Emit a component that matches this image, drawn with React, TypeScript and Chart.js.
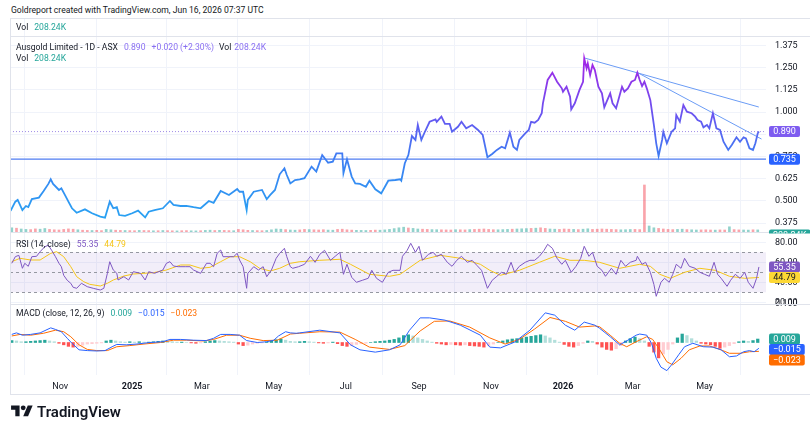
import React, { useEffect, useRef } from "react";
import { Chart, registerables } from "chart.js";

Chart.register(...registerables);

const FONT = "Roboto, 'Noto Sans', 'DejaVu Sans', sans-serif";
const TEXT = "#131722";
const GRID = "#f0f3fa";
const LEGEND_SIZE = 8.6;
Chart.defaults.font.family = FONT;
Chart.defaults.font.size = 9;
Chart.defaults.color = TEXT;

// ---------- time axis (calendar days counted from 2024-09-01) ----------
const X_MIN = 18.5;
const X_MAX = 659;
const MONTH_DAYS = [61, 122, 181, 242, 303, 365, 426, 487, 546, 607];
const MONTH_LABELS = ["Nov", "2025", "Mar", "May", "Jul", "Sep", "Nov", "2026", "Mar", "May"];
const YEAR_LABELS = ["2025", "2026"];

// ---------- price ----------
const PRICE_TICKS = [0.375, 0.5, 0.625, 0.75, 0.875, 1.0, 1.125, 1.25, 1.375];
const PRICE_DAYS = [
  19, 23, 25, 29, 32, 34, 37, 43, 47, 51,
  53, 55, 60, 62, 65, 68, 71, 75, 82, 88,
  95, 99, 103, 106, 109, 111, 116, 122, 127, 133,
  136, 141, 148, 154, 157, 163, 168, 174, 180, 187,
  191, 197, 204, 211, 213, 216, 219, 220, 225, 232,
  236, 239, 243, 247, 251, 253, 256, 260, 264, 268,
  274, 278, 283, 288, 292, 295, 300, 301, 304, 308,
  311, 315, 320, 323, 328, 333, 339, 345, 349, 350,
  353, 356, 359, 362, 364, 367, 370, 374, 379, 380,
  384, 387, 391, 393, 398, 401, 405, 410, 415, 419,
  423, 427, 431, 435, 438, 442, 445, 448, 450, 455,
  458, 460, 463, 466, 469, 470, 474, 478, 482, 486,
  487, 490, 493, 494, 497, 501, 504, 505, 507, 508,
  510, 512, 514, 517, 520, 522, 524, 527, 529, 532,
  537, 539, 542, 545, 548, 550, 552, 554, 556, 558,
  561, 564, 566, 568, 571, 572, 575, 579, 582, 583,
  586, 589, 592, 596, 599, 601, 604, 606, 609, 611,
  614, 617, 620, 623, 627, 630, 634, 637, 640, 642,
  645, 648, 650, 652, 653,
];
const PRICE_CLOSE = [
  0.445, 0.496, 0.506, 0.449, 0.472, 0.466, 0.511, 0.519, 0.556, 0.596,
  0.622, 0.596, 0.562, 0.571, 0.534, 0.496, 0.459, 0.434, 0.453, 0.431,
  0.412, 0.406, 0.496, 0.459, 0.465, 0.421, 0.416, 0.431, 0.446, 0.408,
  0.44, 0.449, 0.459, 0.5, 0.478, 0.472, 0.472, 0.465, 0.459, 0.5,
  0.49, 0.556, 0.534, 0.567, 0.552, 0.552, 0.449, 0.506, 0.552, 0.562,
  0.51, 0.534, 0.562, 0.65, 0.684, 0.646, 0.599, 0.618, 0.622, 0.628,
  0.693, 0.665, 0.758, 0.715, 0.721, 0.768, 0.768, 0.656, 0.734, 0.637,
  0.599, 0.596, 0.58, 0.614, 0.566, 0.543, 0.614, 0.618, 0.622, 0.614,
  0.712, 0.758, 0.865, 0.843, 0.927, 0.843, 0.889, 0.945, 0.959, 0.945,
  0.974, 0.933, 0.933, 0.889, 0.917, 0.945, 0.908, 0.927, 0.899, 0.871,
  0.746, 0.764, 0.787, 0.805, 0.796, 0.884, 0.805, 0.787, 0.843, 0.88,
  0.899, 0.945, 0.94, 0.955, 0.993, 1.049, 1.18, 1.221, 1.17, 1.133,
  1.114, 1.142, 1.086, 1.015, 1.049, 1.124, 1.17, 1.301, 1.245, 1.273,
  1.208, 1.264, 1.236, 1.142, 1.105, 1.026, 1.058, 1.105, 1.049, 1.021,
  1.142, 1.114, 1.133, 1.17, 1.18, 1.221, 1.18, 1.146, 1.17, 1.133,
  1.067, 0.927, 0.824, 0.753, 0.843, 0.889, 0.824, 0.889, 0.908, 0.983,
  0.946, 1.039, 1.002, 0.993, 0.974, 0.955, 0.946, 0.914, 0.927, 0.908,
  0.993, 0.908, 0.899, 0.833, 0.787, 0.815, 0.858, 0.833, 0.858, 0.852,
  0.796, 0.787, 0.824, 0.88, 0.89,
];
const LAST_CLOSE = 0.89;
const SUPPORT_LEVEL = 0.735;
const TREND_UPPER_DAYS = [505.5, 652.9];
const TREND_UPPER_PRICES = [1.303, 1.028];
const TREND_LOWER_DAYS = [550.2, 655.2];
const TREND_LOWER_PRICES = [1.221, 0.848];

// ---------- volume & MACD histogram (one bar every 4 days from day 20) ----------
const BAR_START_DAY = 20;
const BAR_STEP_DAYS = 4;
const VOLUME_K = [
  420, 380, 300, 260, 240, 310, 280, 350, 260, 220,
  200, 260, 310, 280, 220, 180, 160, 150, 170, 140,
  260, 220, 180, 160, 150, 140, 130, 160, 150, 140, 120, 130,
  150, 140, 120, 110, 130, 140, 120, 110, 130, 160, 180, 150,
  170, 160, 140, 130, 260, 220, 170, 150, 140, 130, 150, 220,
  300, 280, 240, 200, 180, 210, 260, 240, 220, 200, 230, 190,
  180, 260, 280, 220, 190, 170, 160, 150, 170, 190, 180, 210,
  260, 340, 420, 480, 400, 360, 300, 280, 260, 240, 230, 220,
  210, 200, 230, 220, 210, 240, 260, 280, 300, 260, 230, 220,
  240, 260, 280, 300, 320, 340, 360, 380, 420, 360, 300, 280,
  260, 300, 280, 260, 240, 280, 320, 260, 280, 300, 280, 260,
  240, 220, 230, 250, 260, 240, 4700, 600, 420, 360, 300, 260,
  240, 260, 280, 240, 220, 200, 210, 220, 200, 190, 210, 200,
  520, 240, 210, 200, 190, 220, 208,
];
const VOLUME_DIRECTION =
  "uduudduudd" + "dddduddudd" + "uuddudduddud" + "uddudduuduud" + "uddudddudduu" +
  "uuduuddudddu" + "udddduuudduu" + "uuuuduudduud" + "dduddudddddu" + "uuduuududduu" +
  "ddduduuddddd" + "duuuddduuddd" + "duuduudddudd" + "udduudu";
const MACD_HIST = [
  0.005, 0.004, 0.002, 0.002, 0.003, 0.004, 0.005, 0.006, 0.004, 0.002,
  -0.002, -0.006, -0.01, -0.012, -0.01, -0.007, -0.004, -0.003, -0.002, -0.001,
  0.004, 0.006, 0.004, 0.002, 0.001, 0.002, 0.001, 0.002, 0.001, 0.001, 0.002, 0.003,
  0.004, 0.003, 0.002, 0.001, 0.001, 0.0, -0.001, -0.002, -0.001, 0.002, 0.004, 0.005,
  0.004, 0.003, 0.002, 0.001, -0.004, -0.008, -0.007, -0.004, -0.002, -0.001, 0.001, 0.004,
  0.007, 0.009, 0.006, 0.003, 0.002, 0.002, 0.003, 0.002, 0.001, -0.001, -0.002, -0.001,
  0.001, -0.003, -0.008, -0.01, -0.008, -0.005, -0.003, -0.002, 0.0, 0.002, 0.003, 0.004,
  0.006, 0.008, 0.012, 0.018, 0.02, 0.017, 0.012, 0.008, 0.004, 0.001, -0.002, -0.004,
  -0.006, -0.005, -0.006, -0.007, -0.006, -0.008, -0.009, -0.01, -0.012, -0.008, -0.004, 0.0,
  0.004, 0.007, 0.009, 0.01, 0.012, 0.014, 0.016, 0.018, 0.02, 0.017, 0.012, 0.006,
  0.001, -0.005, -0.01, -0.012, -0.008, -0.002, 0.004, 0.003, -0.004, -0.012, -0.018, -0.02,
  -0.016, -0.008, 0.004, 0.01, 0.014, 0.01, 0.004, -0.01, -0.025, -0.04, -0.03, -0.018,
  -0.004, 0.012, 0.022, 0.018, 0.01, 0.004, -0.002, -0.004, -0.006, -0.01, -0.015, -0.012,
  -0.008, -0.003, 0.002, 0.004, 0.003, 0.005, 0.009,
];

// ---------- RSI (14, close) ----------
const RSI_TICKS = [20, 40, 60, 80];
const RSI_UPPER = 70;
const RSI_MIDDLE = 50;
const RSI_LOWER = 30;
const RSI_DAYS = [
  20, 23, 26, 29, 31, 34, 37, 41, 44, 48,
  51, 54, 57, 60, 62, 64, 67, 70, 72, 75,
  79, 84, 89, 95, 98, 101, 103, 106, 109, 110,
  115, 119, 123, 129, 133, 136, 141, 148, 151, 154,
  157, 161, 167, 171, 174, 180, 185, 188, 191, 194,
  197, 199, 204, 208, 211, 213, 216, 219, 220, 225,
  229, 233, 236, 240, 244, 247, 251, 253, 256, 258,
  263, 268, 273, 277, 281, 285, 290, 294, 298, 301,
  304, 308, 312, 317, 322, 325, 329, 334, 339, 343,
  349, 351, 355, 358, 362, 365, 368, 373, 377, 380,
  384, 389, 393, 397, 401, 406, 410, 414, 418, 423,
  427, 431, 435, 439, 443, 446, 450, 455, 459, 463,
  467, 471, 474, 478, 482, 486, 489, 494, 498, 502,
  505, 509, 512, 516, 520, 523, 528, 532, 536, 540,
  544, 549, 550, 554, 557, 561, 564, 566, 570, 573,
  577, 580, 583, 587, 590, 594, 599, 603, 607, 611,
  615, 618, 621, 626, 629, 633, 637, 641, 644, 648,
  651, 653,
];
const RSI_VALUES = [
  59, 65.6, 67, 54, 59, 56, 65.6, 66, 70.6, 75.6,
  77, 71.6, 65.6, 59, 55.6, 47, 42, 39, 35, 34,
  39, 35.6, 34, 32.3, 34, 49, 60.6, 52.3, 49, 42.3,
  45.6, 42.3, 50.6, 49, 42.3, 50.6, 49, 52.3, 59, 60.6,
  56.3, 55.6, 55.6, 55.6, 52.3, 49, 59, 59, 55.6, 69,
  72.3, 65.6, 65.6, 65.6, 69, 62.3, 55.6, 34, 49, 55.6,
  52.3, 55.6, 45.6, 52.3, 64, 69, 74, 65.6, 55.6, 54,
  55.6, 58, 66, 60, 68, 72, 62, 66, 70, 48,
  58, 45, 40, 42, 44, 52, 44, 40, 50, 52,
  52, 66, 72, 79, 70, 76, 62, 68, 70, 66,
  68, 60, 56, 62, 66, 60, 62, 57, 52, 34,
  42, 46, 50, 48, 60, 50, 56, 60, 62, 62,
  66, 72, 78, 74, 64, 58, 62, 50, 56, 64,
  76, 66, 70, 56, 52, 46, 54, 48, 62, 56,
  60, 62, 66, 58, 60, 50, 38, 26, 40, 44,
  40, 48, 58, 54, 64, 56, 54, 50, 48, 46,
  60, 48, 44, 36, 42, 48, 44, 50, 40, 34,
  44, 55.35,
];
const RSI_MA_DAYS = [
  20, 27, 36, 44, 53, 58, 64, 70, 75, 81,
  86, 95, 101, 106, 115, 123, 132, 140, 151, 163,
  171, 180, 188, 197, 205, 213, 222, 230, 239, 247,
  256, 264, 281, 298, 307, 323, 340, 349, 366, 383,
  400, 417, 425, 434, 450, 467, 480, 493, 505, 518,
  535, 552, 561, 569, 578, 590, 603, 616, 628, 641,
  653,
];
const RSI_MA_VALUES = [
  60.6, 64, 62.3, 62.3, 69, 70.6, 65.6, 55.6, 45.6, 40.6,
  38, 36.3, 39, 42.3, 46.3, 48.3, 49, 49.6, 52.3, 57.3,
  57.3, 54, 55, 60.6, 65.6, 65.6, 60.6, 54, 51.3, 54,
  59, 60.6, 62, 63, 58, 48, 46, 48, 62, 67,
  64, 58, 52, 47, 52, 60, 66, 62, 62, 60,
  54, 58, 56, 48, 44, 50, 54, 52, 46, 44,
  44.79,
];

// ---------- MACD (close, 12, 26, 9) ----------
const MACD_TICKS = [0.1];
const MACD_DAYS = [
  20, 24, 29, 36, 44, 53, 57, 62, 67, 71,
  77, 84, 92, 99, 105, 109, 117, 126, 137, 148,
  154, 163, 174, 185, 191, 197, 205, 213, 219, 228,
  236, 242, 246, 252, 256, 261, 264, 281, 298, 307,
  315, 328, 340, 349, 357, 366, 374, 387, 400, 417,
  425, 434, 446, 459, 472, 480, 489, 497, 505, 514,
  518, 527, 535, 542, 549, 552, 558, 562, 566, 570,
  575, 579, 585, 590, 597, 606, 614, 621, 628, 634,
  640, 645, 649, 653,
];
const MACD_VALUES = [
  0.021, 0.025, 0.019, 0.021, 0.025, 0.038, 0.034, 0.028, 0.011, -0.002,
  -0.019, -0.021, -0.022, -0.021, -0.011, -0.005, -0.006, -0.004, 0.0, 0.002,
  0.008, 0.008, 0.006, 0.005, 0.011, 0.021, 0.021, 0.019, 0.005, 0.0,
  0.002, 0.006, 0.017, 0.028, 0.025, 0.024, 0.025, 0.032, 0.025, -0.006,
  -0.019, -0.025, -0.019, -0.006, 0.032, 0.064, 0.064, 0.058, 0.045, 0.019,
  -0.012, -0.014, 0.001, 0.032, 0.077, 0.071, 0.045, 0.032, 0.053, 0.045,
  0.037, 0.015, -0.006, 0.006, 0.019, 0.022, 0.019, -0.002, -0.041, -0.064,
  -0.073, -0.058, -0.032, -0.011, -0.002, -0.011, -0.012, -0.019, -0.037, -0.035,
  -0.024, -0.021, -0.024, -0.015,
];
const SIGNAL_DAYS = [
  20, 27, 36, 47, 57, 64, 70, 77, 84, 92,
  101, 109, 120, 132, 146, 157, 168, 182, 191, 202,
  213, 222, 233, 245, 256, 264, 281, 298, 311, 323,
  340, 353, 366, 378, 391, 408, 425, 438, 450, 463,
  476, 489, 501, 514, 518, 527, 535, 541, 549, 558,
  563, 569, 575, 580, 587, 594, 603, 611, 620, 628,
  637, 645, 653,
];
const SIGNAL_VALUES = [
  0.017, 0.021, 0.019, 0.024, 0.032, 0.028, 0.015, -0.006, -0.018, -0.021,
  -0.021, -0.011, -0.008, -0.004, 0.0, 0.006, 0.006, 0.004, 0.008, 0.019,
  0.019, 0.011, 0.005, 0.006, 0.022, 0.024, 0.028, 0.027, 0.008, -0.012,
  -0.018, -0.008, 0.03, 0.055, 0.056, 0.04, 0.012, -0.004, 0.008, 0.035,
  0.065, 0.055, 0.04, 0.043, 0.041, 0.019, -0.002, -0.011, 0.002, 0.015,
  0.008, -0.019, -0.05, -0.058, -0.041, -0.019, -0.009, -0.009, -0.018, -0.028,
  -0.028, -0.024, -0.023,
];

// ---------- layout (pixels) ----------
const AXIS_W = 44;
const TIME_AXIS_H = 19;
const PANE_WEIGHTS = { top: 18, main: 196, rsi: 72, macd: 71 };
const MAIN_RANGE = [0.3258, 1.427];
const RSI_RANGE = [18.3, 90.3];
const MACD_RANGE = [-0.0844, 0.1];
const VOL_PX_PER_K = 0.01;

const COLORS = {
  purple: "#7e5cf0",
  purpleText: "#8a70f2",
  teal: "#26a69a",
  blue: "#2962ff",
  orange: "#ff6d00",
  rsi: "#7e57c2",
  rsiMa: "#f5c518",
  trend: "#6b9cf5",
  support: "#4f7df2",
};

const xy = (xs: number[], ys: number[]) => xs.map((x, i) => ({ x, y: ys[i] }));

function roundRect(ctx: CanvasRenderingContext2D, x: number, y: number, w: number, h: number, r: number) {
  ctx.beginPath();
  ctx.moveTo(x + r, y);
  ctx.lineTo(x + w - r, y);
  ctx.quadraticCurveTo(x + w, y, x + w, y + r);
  ctx.lineTo(x + w, y + h - r);
  ctx.quadraticCurveTo(x + w, y + h, x + w - r, y + h);
  ctx.lineTo(x + r, y + h);
  ctx.quadraticCurveTo(x, y + h, x, y + h - r);
  ctx.lineTo(x, y + r);
  ctx.quadraticCurveTo(x, y, x + r, y);
  ctx.closePath();
}

function valueBox(ctx: CanvasRenderingContext2D, x: number, y: number, text: string, bg: string, fg: string) {
  ctx.font = `9px ${FONT}`;
  const w = Math.max(31, ctx.measureText(text).width + 8);
  const h = 11;
  ctx.fillStyle = bg;
  roundRect(ctx, x, y - h / 2, w, h, 2);
  ctx.fill();
  ctx.fillStyle = fg;
  ctx.textAlign = "center";
  ctx.textBaseline = "middle";
  ctx.fillText(text, x + w / 2, y + 0.5);
}

function textRuns(ctx: CanvasRenderingContext2D, x: number, y: number, runs: [string, string, number][]) {
  ctx.font = `${LEGEND_SIZE}px ${FONT}`;
  ctx.textAlign = "left";
  ctx.textBaseline = "middle";
  let cx = x;
  for (const [t, c, gap] of runs) {
    cx += gap;
    ctx.fillStyle = c;
    ctx.fillText(t, cx, y);
    cx += ctx.measureText(t).width;
  }
}

const panesPlugin = {
  id: "panes",
  beforeDatasetsDraw(chart: any) {
    const { ctx, chartArea: a, scales } = chart;
    const r = scales.yRsi;
    const yU = r.getPixelForValue(RSI_UPPER);
    const yL = r.getPixelForValue(RSI_LOWER);
    ctx.save();
    ctx.fillStyle = "rgba(126,87,194,0.1)";
    ctx.fillRect(a.left, yU, a.right - a.left, yL - yU);
    ctx.strokeStyle = "#9598a1";
    ctx.lineWidth = 1;
    ctx.setLineDash([3, 3]);
    for (const v of [RSI_UPPER, RSI_MIDDLE, RSI_LOWER]) {
      const yy = Math.round(r.getPixelForValue(v)) + 0.5;
      ctx.beginPath();
      ctx.moveTo(a.left, yy);
      ctx.lineTo(a.right, yy);
      ctx.stroke();
    }
    ctx.restore();
  },
  afterDraw(chart: any) {
    const { ctx, chartArea: a, scales } = chart;
    const W = chart.width;
    const yMain = scales.y;
    const yRsi = scales.yRsi;
    const yMacd = scales.yMacd;
    const yVol = scales.yVol;
    const frameBottom = a.bottom + TIME_AXIS_H;
    ctx.save();
    ctx.strokeStyle = "#e0e3eb";
    ctx.lineWidth = 1;
    ctx.setLineDash([]);
    for (const yy of [yMain.top, yRsi.top, yMacd.top]) {
      const p = Math.round(yy) + 0.5;
      ctx.beginPath();
      ctx.moveTo(a.left, p);
      ctx.lineTo(W, p);
      ctx.stroke();
    }
    ctx.beginPath();
    ctx.moveTo(a.left + 0.5, a.top);
    ctx.lineTo(a.left + 0.5, frameBottom);
    ctx.moveTo(a.left, a.top + 0.5);
    ctx.lineTo(W, a.top + 0.5);
    ctx.moveTo(a.left, frameBottom + 0.5);
    ctx.lineTo(W, frameBottom + 0.5);
    ctx.stroke();

    const bx = a.right + 3;
    // volume last value (mostly hidden under the RSI pane)
    ctx.save();
    ctx.beginPath();
    ctx.rect(a.right, yMain.bottom - 4, W - a.right, 5.5);
    ctx.clip();
    valueBox(ctx, bx, yVol.getPixelForValue(VOLUME_K[VOLUME_K.length - 1]) + 5, "208.24K", COLORS.teal, "#fff");
    ctx.restore();

    valueBox(ctx, bx, yMain.getPixelForValue(LAST_CLOSE), LAST_CLOSE.toFixed(3), COLORS.purple, "#fff");
    valueBox(ctx, bx, yMain.getPixelForValue(SUPPORT_LEVEL), SUPPORT_LEVEL.toFixed(3), COLORS.blue, "#fff");
    const rsiLast = RSI_VALUES[RSI_VALUES.length - 1];
    const maLast = RSI_MA_VALUES[RSI_MA_VALUES.length - 1];
    valueBox(ctx, bx, yRsi.getPixelForValue(rsiLast), rsiLast.toFixed(2), COLORS.rsi, "#fff");
    valueBox(ctx, bx, yRsi.getPixelForValue(maLast), maLast.toFixed(2), "#fdd835", TEXT);

    const histLast = MACD_HIST[MACD_HIST.length - 1];
    const macdLast = MACD_VALUES[MACD_VALUES.length - 1];
    const sigLast = SIGNAL_VALUES[SIGNAL_VALUES.length - 1];
    const fmt = (v: number) => (v < 0 ? "\u2212" + Math.abs(v).toFixed(3) : v.toFixed(3));
    const labels = [
      { v: histLast, bg: COLORS.teal },
      { v: macdLast, bg: COLORS.blue },
      { v: sigLast, bg: COLORS.orange },
    ]
      .map((l) => ({ ...l, y: yMacd.getPixelForValue(l.v) }))
      .sort((p, q) => p.y - q.y);
    let prevY = -1e9;
    for (const l of labels) {
      const y = Math.max(l.y, prevY + 10.5);
      valueBox(ctx, bx, y, fmt(l.v), l.bg, "#fff");
      prevY = y;
    }

    // legends
    textRuns(ctx, a.left + 6, a.top + 10, [["Vol", TEXT, 0], ["208.24K", COLORS.teal, 6]]);
    textRuns(ctx, a.left + 6, yMain.top + 12, [
      ["Ausgold Limited - 1D - ASX", TEXT, 0],
      ["0.890", COLORS.purpleText, 6],
      ["+0.020 (+2.30%)", COLORS.purpleText, 6],
      ["Vol", TEXT, 5],
      ["208.24K", COLORS.purpleText, 3],
    ]);
    textRuns(ctx, a.left + 6, yMain.top + 23, [["Vol", TEXT, 0], ["208.24K", COLORS.teal, 6]]);
    textRuns(ctx, a.left + 6, yRsi.top + 13, [
      ["RSI (14, close)", TEXT, 0],
      [rsiLast.toFixed(2), COLORS.rsi, 6],
      [maLast.toFixed(2), COLORS.rsiMa, 6],
    ]);
    textRuns(ctx, a.left + 6, yMacd.top + 10, [
      ["MACD (close, 12, 26, 9)", TEXT, 0],
      [fmt(histLast), COLORS.teal, 6],
      [fmt(macdLast), COLORS.blue, 6],
      [fmt(sigLast), COLORS.orange, 6],
    ]);
    ctx.restore();
  },
};

const fixTicks = (values: number[]) => (scale: any) => {
  scale.ticks = values.map((value) => ({ value }));
};

function priceGradient(context: any) {
  const chart = context.chart;
  const ys = chart.scales && chart.scales.y;
  if (!chart.chartArea || !ys) return "#3f7bf2";
  const g = chart.ctx.createLinearGradient(0, ys.getPixelForValue(0.4), 0, ys.getPixelForValue(1.3));
  g.addColorStop(0, "#28a2f2");
  g.addColorStop(0.38, "#3d7ef3");
  g.addColorStop(0.62, "#6459f1");
  g.addColorStop(1, "#a424e6");
  return g;
}

export default function App() {
  const ref = useRef<HTMLCanvasElement | null>(null);

  useEffect(() => {
    if (!ref.current) return;
    const barDays = VOLUME_K.map((_, i) => BAR_START_DAY + i * BAR_STEP_DAYS);
    const volColors = VOLUME_K.map((_, i) =>
      VOLUME_DIRECTION[i] === "u" ? "rgba(38,166,154,0.5)" : "rgba(242,54,69,0.45)"
    );
    const histColors = MACD_HIST.map((v, i) => {
      const prev = i > 0 ? MACD_HIST[i - 1] : 0;
      if (v >= 0) return v >= prev ? "#26a69a" : "#b2dfdb";
      return v < prev ? "#ff5252" : "#ffcdd2";
    });
    const volBase = PANE_WEIGHTS.rsi + PANE_WEIGHTS.macd;
    const volTop = PANE_WEIGHTS.top + PANE_WEIGHTS.main;

    const rightAxis = (weight: number, stackWeight: number, range: number[], ticks: number[], digits: number) => ({
      type: "linear",
      position: "right",
      stack: "panes",
      stackWeight,
      weight,
      min: range[0],
      max: range[1],
      afterBuildTicks: fixTicks(ticks),
      afterFit: (s: any) => {
        s.width = AXIS_W;
      },
      grid: { color: GRID, drawTicks: false },
      border: { display: false },
      ticks: {
        autoSkip: false,
        padding: 9,
        color: TEXT,
        font: { family: FONT, size: 9 },
        callback: (v: any) => Number(v).toFixed(digits),
      },
    });

    const chart = new Chart(ref.current, {
      type: "line",
      data: {
        datasets: [
          {
            type: "line",
            label: "Close",
            data: xy(PRICE_DAYS, PRICE_CLOSE),
            yAxisID: "y",
            borderColor: priceGradient,
            borderWidth: 1.8,
            pointRadius: 0,
            order: 1,
          },
          {
            type: "line",
            label: "Trend upper",
            data: xy(TREND_UPPER_DAYS, TREND_UPPER_PRICES),
            yAxisID: "y",
            borderColor: COLORS.trend,
            borderWidth: 1,
            pointRadius: 0,
            order: 2,
          },
          {
            type: "line",
            label: "Trend lower",
            data: xy(TREND_LOWER_DAYS, TREND_LOWER_PRICES),
            yAxisID: "y",
            borderColor: COLORS.trend,
            borderWidth: 1,
            pointRadius: 0,
            order: 2,
          },
          {
            type: "line",
            label: "Support",
            data: xy([X_MIN, X_MAX], [SUPPORT_LEVEL, SUPPORT_LEVEL]),
            yAxisID: "y",
            borderColor: COLORS.support,
            borderWidth: 1.2,
            pointRadius: 0,
            order: 3,
          },
          {
            type: "line",
            label: "Last close",
            data: xy([X_MIN, X_MAX], [LAST_CLOSE, LAST_CLOSE]),
            yAxisID: "y",
            borderColor: "#a08ce8",
            borderWidth: 1,
            borderDash: [1, 2],
            pointRadius: 0,
            order: 4,
          },
          {
            type: "bar",
            label: "Volume",
            data: xy(barDays, VOLUME_K),
            yAxisID: "yVol",
            backgroundColor: volColors,
            barThickness: 2,
            grouped: false,
            order: 9,
          },
          {
            type: "line",
            label: "RSI",
            data: xy(RSI_DAYS, RSI_VALUES),
            yAxisID: "yRsi",
            borderColor: COLORS.rsi,
            borderWidth: 1,
            pointRadius: 0,
            order: 1,
          },
          {
            type: "line",
            label: "RSI MA",
            data: xy(RSI_MA_DAYS, RSI_MA_VALUES),
            yAxisID: "yRsi",
            borderColor: COLORS.rsiMa,
            borderWidth: 1,
            pointRadius: 0,
            order: 2,
          },
          {
            type: "line",
            label: "MACD",
            data: xy(MACD_DAYS, MACD_VALUES),
            yAxisID: "yMacd",
            borderColor: COLORS.blue,
            borderWidth: 1,
            pointRadius: 0,
            order: 1,
          },
          {
            type: "line",
            label: "Signal",
            data: xy(SIGNAL_DAYS, SIGNAL_VALUES),
            yAxisID: "yMacd",
            borderColor: COLORS.orange,
            borderWidth: 1,
            pointRadius: 0,
            order: 2,
          },
          {
            type: "bar",
            label: "Histogram",
            data: xy(barDays, MACD_HIST),
            yAxisID: "yMacd",
            backgroundColor: histColors,
            barThickness: 2.6,
            grouped: false,
            order: 5,
          },
        ],
      },
      options: {
        responsive: false,
        animation: false,
        events: [],
        layout: { padding: { left: 10, top: 18, right: 0, bottom: 30 } },
        plugins: { legend: { display: false }, tooltip: { enabled: false } },
        elements: { line: { tension: 0 }, point: { radius: 0 } },
        scales: {
          x: {
            type: "linear",
            position: "bottom",
            min: X_MIN,
            max: X_MAX,
            offset: false,
            afterBuildTicks: fixTicks(MONTH_DAYS),
            afterFit: (s: any) => {
              s.height = TIME_AXIS_H;
            },
            grid: { color: GRID, drawTicks: false },
            border: { display: false },
            ticks: {
              autoSkip: false,
              maxRotation: 0,
              padding: 6,
              color: TEXT,
              callback: (_v: any, i: number) => MONTH_LABELS[i],
              font: (c: any) => ({
                family: FONT,
                size: 9,
                weight: YEAR_LABELS.includes(MONTH_LABELS[c.index]) ? "bold" : "normal",
              }),
            },
          },
          yTop: {
            type: "linear",
            position: "right",
            stack: "panes",
            stackWeight: PANE_WEIGHTS.top,
            weight: 1,
            display: false,
            min: 0,
            max: 1,
          },
          y: rightAxis(2, PANE_WEIGHTS.main, MAIN_RANGE, PRICE_TICKS, 3),
          yRsi: rightAxis(3, PANE_WEIGHTS.rsi, RSI_RANGE, RSI_TICKS, 2),
          yMacd: rightAxis(4, PANE_WEIGHTS.macd, MACD_RANGE, MACD_TICKS, 3),
          yVol: {
            type: "linear",
            position: "left",
            display: false,
            min: -volBase / VOL_PX_PER_K,
            max: volTop / VOL_PX_PER_K,
          },
        },
      } as any,
      plugins: [panesPlugin],
    } as any);
    return () => chart.destroy();
  }, []);

  return (
    <div
      style={{
        position: "absolute",
        left: 0,
        top: 0,
        width: 810,
        height: 424,
        background: "#ffffff",
        overflow: "hidden",
      }}
    >
      <div
        style={{
          position: "absolute",
          left: 11,
          top: 4,
          fontFamily: FONT,
          fontSize: LEGEND_SIZE,
          lineHeight: "12px",
          color: TEXT,
          whiteSpace: "nowrap",
        }}
      >
        Goldreport created with TradingView.com, Jun 16, 2026 07:37 UTC
      </div>
      <canvas
        ref={ref}
        width={810}
        height={424}
        style={{ position: "absolute", left: 0, top: 0, width: 810, height: 424 }}
      />
      <svg
        width={22}
        height={17}
        viewBox="0 0 36 28"
        style={{ position: "absolute", left: 11, top: 403 }}
      >
        <path d="M14 22H7V11H0V4h14v18z" fill={TEXT} />
        <circle cx="20" cy="8" r="4" fill={TEXT} />
        <path d="M28 22h-8l7.5-18h8L28 22z" fill={TEXT} />
      </svg>
      <div
        style={{
          position: "absolute",
          left: 37,
          top: 403,
          fontFamily: FONT,
          fontSize: 15,
          lineHeight: "18px",
          fontWeight: 600,
          color: TEXT,
          whiteSpace: "nowrap",
        }}
      >
        TradingView
      </div>
    </div>
  );
}
